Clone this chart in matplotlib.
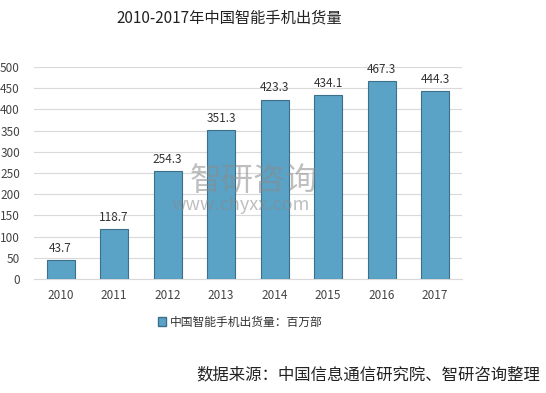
import matplotlib
matplotlib.use('Agg')
import matplotlib.pyplot as plt
from matplotlib.patches import Patch

plt.rcParams['font.family'] = ['Noto Sans CJK SC', 'DejaVu Sans']

years = ['2010', '2011', '2012', '2013', '2014', '2015', '2016', '2017']
shipments = [43.7, 118.7, 254.3, 351.3, 423.3, 434.1, 467.3, 444.3]
yticks = [0, 50, 100, 150, 200, 250, 300, 350, 400, 450, 500]

fig = plt.figure(figsize=(5.46, 3.93), dpi=100)
ax = fig.add_axes([0.062, 0.290, 0.784, 0.5395])

bar_color = '#5aa3c6'
edge_color = '#3d6f8c'
x = range(len(years))
ax.bar(x, shipments, width=0.52, color=bar_color, edgecolor=edge_color, linewidth=0.8, zorder=3)

for i, v in enumerate(shipments):
    ax.text(i, v + 12, f'{v:.1f}', ha='center', va='bottom', fontsize=8.5, color='#333333', zorder=4)

ax.set_xlim(-0.5, len(years) - 0.5)
ax.set_ylim(0, 500)
ax.set_yticks(yticks)
ax.set_xticks(list(x))
ax.set_xticklabels(years)
ax.tick_params(axis='both', length=0, labelsize=8.5, colors='#444444')
ax.tick_params(axis='y', pad=10)
ax.tick_params(axis='x', pad=7)
ax.yaxis.grid(True, color='#d9d9d9', linewidth=0.8, zorder=0)
for s in ['top', 'right', 'left']:
    ax.spines[s].set_visible(False)
ax.spines['bottom'].set_color('#d9d9d9')

# watermark
fig.text(0.465, 0.54, '智研咨询', fontsize=23, color='#8a8a8a', alpha=0.55, ha='center', va='center')
fig.text(0.44, 0.478, 'www.chyxx.com', fontsize=13, color='#8a8a8a', alpha=0.55, ha='center', va='center')

fig.text(0.42, 0.955, '2010-2017年中国智能手机出货量', fontsize=11, ha='center', va='center', color='#222222')

handles = [Patch(facecolor=bar_color, edgecolor=edge_color, label='中国智能手机出货量：百万部')]
fig.legend(handles=handles, loc='center', bbox_to_anchor=(0.44, 0.18), frameon=False,
           fontsize=8.5, handlelength=0.7, handleheight=0.7, handletextpad=0.3, labelcolor='#333333')

fig.text(0.99, 0.045, '数据来源：中国信息通信研究院、智研咨询整理', fontsize=11.8, ha='right', va='center', color='#222222')

fig.savefig('out.png', dpi=100)
